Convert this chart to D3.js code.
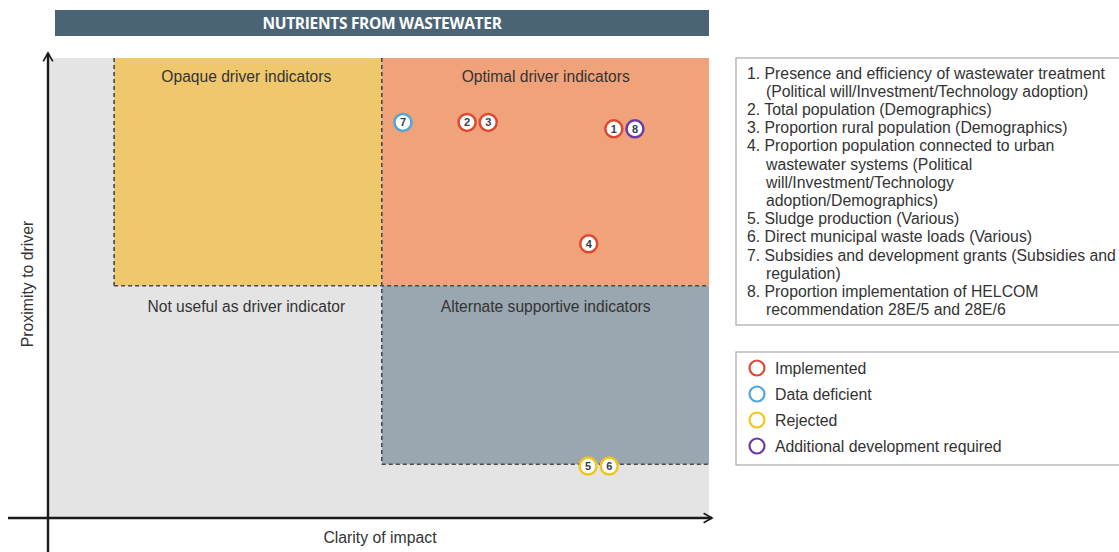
<!DOCTYPE html>
<html>
<head>
<meta charset="utf-8">
<script src="https://cdn.jsdelivr.net/npm/d3@7"></script>
<style>
  body { margin: 0; background: #fff; }
  svg { display: block; font-family: "Liberation Sans", Arial, sans-serif; }
</style>
</head>
<body>
<div id="chart"></div>
<script>
// quadrant zones, in data units (x = clarity of impact, y = proximity to driver)
const zones = [
  { name: 'Opaque driver indicators', x0: 1.0, x1: 5.05, y0: 5.05, y1: 10, fill: '#efc76d' },
  { name: 'Optimal driver indicators', x0: 5.05, x1: 10, y0: 5.05, y1: 10, fill: '#f0a27b' },
  { name: 'Alternate supportive indicators', x0: 5.05, x1: 10, y0: 1.17, y1: 5.05, fill: '#9aa6b0' }
];
const zoneLabels = [
  { text: 'Opaque driver indicators', x: 3.0, y: 9.6 },
  { text: 'Optimal driver indicators', x: 7.53, y: 9.6 },
  { text: 'Not useful as driver indicator', x: 3.0, y: 4.6 },
  { text: 'Alternate supportive indicators', x: 7.53, y: 4.6 }
];

// indicators
const ids = [7, 2, 3, 1, 8, 4, 5, 6];
const clarity = [5.37, 6.34, 6.66, 8.56, 8.88, 8.18, 8.17, 8.49];
const proximity = [8.6, 8.6, 8.6, 8.46, 8.46, 5.96, 1.13, 1.13];
const status = ['Data deficient', 'Implemented', 'Implemented', 'Implemented',
  'Additional development required', 'Implemented', 'Rejected', 'Rejected'];

const statusNames = ['Implemented', 'Data deficient', 'Rejected', 'Additional development required'];
const statusColors = ['#e0472f', '#4ea6dc', '#f1c51c', '#6b3aa6'];

const descriptions = [
  ['1. Presence and efficiency of wastewater treatment', '(Political will/Investment/Technology adoption)'],
  ['2. Total population (Demographics)'],
  ['3. Proportion rural population (Demographics)'],
  ['4. Proportion population connected to urban', 'wastewater systems (Political', 'will/Investment/Technology', 'adoption/Demographics)'],
  ['5. Sludge production (Various)'],
  ['6. Direct municipal waste loads (Various)'],
  ['7. Subsidies and development grants (Subsidies and', 'regulation)'],
  ['8. Proportion implementation of HELCOM', 'recommendation 28E/5 and 28E/6']
];

const title = 'NUTRIENTS FROM WASTEWATER';

const width = 1119;
const height = 552;
const fs = '15.8px';

const svg = d3.select('#chart')
  .append('svg')
  .attr('width', width)
  .attr('height', height);

const x = d3.scaleLinear().domain([0, 10]).range([48, 709]);
const y = d3.scaleLinear().domain([0, 10]).range([518, 58]);
const color = d3.scaleOrdinal().domain(statusNames).range(statusColors);

// title bar
svg.append('rect')
  .attr('x', 55).attr('y', 10)
  .attr('width', x(10) - 55).attr('height', 26)
  .attr('fill', '#4b6475');
svg.append('text')
  .attr('x', (55 + x(10)) / 2).attr('y', 28.5)
  .attr('text-anchor', 'middle')
  .attr('fill', '#fff')
  .style('font-family', '"Open Sans", sans-serif')
  .style('font-weight', 700)
  .style('font-size', '15.5px')
  .style('letter-spacing', '-0.3px')
  .text(title);

// plot background
svg.append('rect')
  .attr('x', x(0)).attr('y', y(10))
  .attr('width', x(10) - x(0)).attr('height', y(0) - y(10))
  .attr('fill', '#e4e4e4');

svg.append('g')
  .selectAll('rect')
  .data(zones)
  .join('rect')
  .attr('x', d => x(d.x0))
  .attr('y', d => y(d.y1))
  .attr('width', d => x(d.x1) - x(d.x0))
  .attr('height', d => y(d.y0) - y(d.y1))
  .attr('fill', d => d.fill);

// dashed borders
const dashes = [
  [[1.0, 10], [1.0, 5.05]],
  [[1.0, 5.05], [10, 5.05]],
  [[5.05, 10], [5.05, 1.17]],
  [[5.05, 1.17], [10, 1.17]]
];
svg.append('g')
  .selectAll('line')
  .data(dashes)
  .join('line')
  .attr('x1', d => x(d[0][0])).attr('y1', d => y(d[0][1]))
  .attr('x2', d => x(d[1][0])).attr('y2', d => y(d[1][1]))
  .attr('stroke', '#454a50')
  .attr('stroke-width', 1.6)
  .attr('stroke-dasharray', '4,3');

svg.append('g')
  .selectAll('text')
  .data(zoneLabels)
  .join('text')
  .attr('x', d => x(d.x))
  .attr('y', d => y(d.y) + 5.5)
  .attr('text-anchor', 'middle')
  .attr('fill', '#333')
  .style('font-size', '15.6px')
  .text(d => d.text);

// axes with arrows
svg.append('defs').append('marker')
  .attr('id', 'arrow')
  .attr('viewBox', '0 0 10 10')
  .attr('refX', 8).attr('refY', 5)
  .attr('markerWidth', 5).attr('markerHeight', 5)
  .attr('markerUnits', 'strokeWidth')
  .attr('orient', 'auto')
  .append('path')
  .attr('d', 'M1,1 L8,5 L1,9')
  .attr('fill', 'none')
  .attr('stroke', '#1a1a1a')
  .attr('stroke-width', 1.4);

svg.append('line')
  .attr('x1', 8).attr('y1', y(0))
  .attr('x2', x(10) + 3).attr('y2', y(0))
  .attr('stroke', '#1a1a1a').attr('stroke-width', 2.4)
  .attr('marker-end', 'url(#arrow)');
svg.append('line')
  .attr('x1', x(0)).attr('y1', height)
  .attr('x2', x(0)).attr('y2', y(10) - 5)
  .attr('stroke', '#1a1a1a').attr('stroke-width', 2.4)
  .attr('marker-end', 'url(#arrow)');

svg.append('text')
  .attr('x', 380).attr('y', 543)
  .attr('text-anchor', 'middle')
  .attr('fill', '#333')
  .style('font-size', fs)
  .text('Clarity of impact');
svg.append('text')
  .attr('transform', 'translate(33, 284) rotate(-90)')
  .attr('text-anchor', 'middle')
  .attr('fill', '#333')
  .style('font-size', fs)
  .text('Proximity to driver');

// indicator points
const points = ids.map((id, i) => ({ id, x: clarity[i], y: proximity[i], status: status[i] }));
const pts = svg.append('g')
  .selectAll('g')
  .data(points)
  .join('g')
  .attr('transform', d => `translate(${x(d.x)},${y(d.y)})`);
pts.append('circle')
  .attr('r', 8.5)
  .attr('fill', '#fff')
  .attr('stroke', d => color(d.status))
  .attr('stroke-width', 2.5);
pts.append('text')
  .attr('y', 4)
  .attr('text-anchor', 'middle')
  .attr('fill', '#3b4048')
  .style('font-size', '11px')
  .style('font-weight', 700)
  .text(d => d.id);

// description legend
svg.append('rect')
  .attr('x', 736).attr('y', 58)
  .attr('width', 400).attr('height', 267)
  .attr('fill', '#fff')
  .attr('stroke', '#a8a8a8')
  .attr('stroke-width', 1.2);

const lines = [];
descriptions.forEach(d => d.forEach((t, j) => lines.push({ t, indent: j > 0 })));
svg.append('g')
  .selectAll('text')
  .data(lines)
  .join('text')
  .attr('x', d => d.indent ? 766 : 747)
  .attr('y', (d, i) => 78.5 + i * 18.2)
  .attr('fill', '#333')
  .style('font-size', fs)
  .text(d => d.t);

// status legend
svg.append('rect')
  .attr('x', 736).attr('y', 352)
  .attr('width', 400).attr('height', 113)
  .attr('fill', '#fff')
  .attr('stroke', '#a8a8a8')
  .attr('stroke-width', 1.2);

const leg = svg.append('g')
  .selectAll('g')
  .data(statusNames)
  .join('g')
  .attr('transform', (d, i) => `translate(757, ${368 + i * 26})`);
leg.append('circle')
  .attr('r', 7.5)
  .attr('fill', '#fff')
  .attr('stroke', d => color(d))
  .attr('stroke-width', 2.2);
leg.append('text')
  .attr('x', 18).attr('y', 5.5)
  .attr('fill', '#333')
  .style('font-size', fs)
  .text(d => d);
</script>
</body>
</html>
